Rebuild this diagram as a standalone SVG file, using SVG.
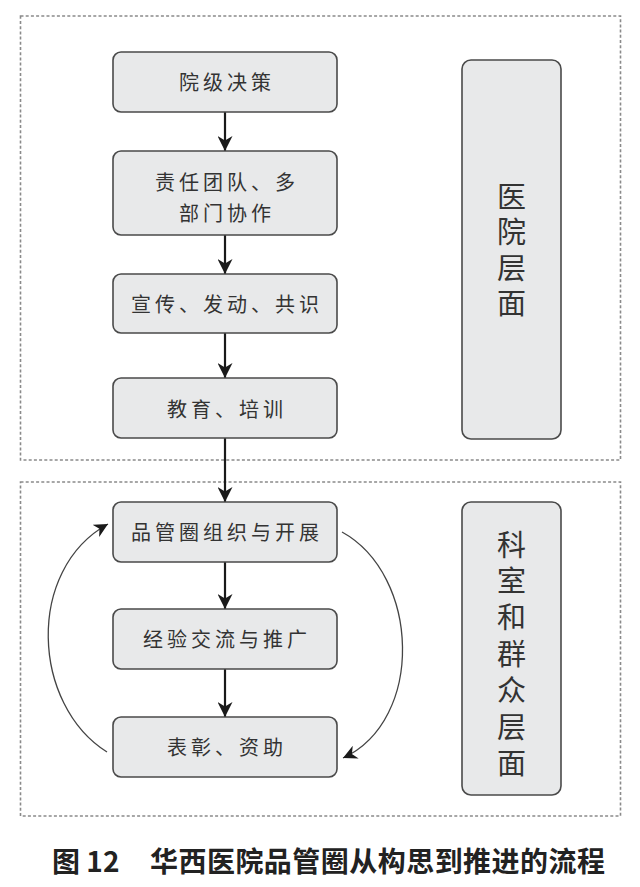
<svg xmlns="http://www.w3.org/2000/svg" width="640" height="887" viewBox="0 0 640 887">
<style>
.frame{fill:none;stroke:#8a8a8a;stroke-width:1.6;stroke-dasharray:3 2.2}
.box{fill:#e8e9ea;stroke:#4a4a4a;stroke-width:1.6}
.t{font-family:"Noto Sans CJK SC","Noto Sans CJK JP",sans-serif;font-size:20px;fill:#333;letter-spacing:4px;text-anchor:middle}
.v{font-family:"Noto Sans CJK SC","Noto Sans CJK JP",sans-serif;font-size:29px;fill:#333;writing-mode:vertical-rl;text-orientation:upright}
.flow{fill:none;stroke:#1a1a1a;stroke-width:2.2}
.curve{fill:none;stroke:#444;stroke-width:1.3}
.title{font-family:"Noto Sans CJK SC","Noto Sans CJK JP",sans-serif;font-size:28px;font-weight:bold;fill:#222}
</style>
<defs>
<marker id="ah2" viewBox="0 0 10 10" refX="10" refY="5" markerWidth="14" markerHeight="14" markerUnits="userSpaceOnUse" orient="auto">
<path d="M0,0 L10,5 L0,10 L3,5 z" fill="#1a1a1a"/>
</marker>
<marker id="ah3" viewBox="0 0 10 10" refX="10" refY="5" markerWidth="15" markerHeight="15" markerUnits="userSpaceOnUse" orient="auto">
<path d="M0,0 L10,5 L0,10 L3,5 z" fill="#1a1a1a"/>
</marker>
</defs>

<g id="frames">
<rect class="frame" x="20.5" y="16" width="600" height="444"/>
<rect class="frame" x="20.5" y="482" width="600" height="334"/>
</g>

<g id="connectors">
<path class="flow" d="M225,112 V151" marker-end="url(#ah3)"/>
<path class="flow" d="M225,235 V274" marker-end="url(#ah3)"/>
<path class="flow" d="M225,333 V378" marker-end="url(#ah3)"/>
<path class="flow" d="M225,438 V502" marker-end="url(#ah3)"/>
<path class="flow" d="M225,562 V609" marker-end="url(#ah3)"/>
<path class="flow" d="M225,669 V717" marker-end="url(#ah3)"/>
<path class="curve" d="M107,752 C32,705 25,570 108,524" marker-end="url(#ah2)"/>
<path class="curve" d="M342,532 C420,575 425,720 343,758" marker-end="url(#ah2)"/>
</g>

<g id="n1"><rect class="box" x="113" y="52" width="224" height="60" rx="8"/><text class="t" x="227" y="90">院级决策</text></g>
<g id="n2"><rect class="box" x="113" y="151" width="224" height="84" rx="8"/><text class="t" x="227" y="190">责任团队、多</text><text class="t" x="227" y="221">部门协作</text></g>
<g id="n3"><rect class="box" x="113" y="274" width="224" height="59" rx="8"/><text class="t" x="227" y="312">宣传、发动、共识</text></g>
<g id="n4"><rect class="box" x="113" y="378" width="224" height="60" rx="8"/><text class="t" x="227" y="417">教育、培训</text></g>
<g id="n5"><rect class="box" x="113" y="502" width="224" height="60" rx="8"/><text class="t" x="227" y="540">品管圈组织与开展</text></g>
<g id="n6"><rect class="box" x="113" y="609" width="224" height="60" rx="8"/><text class="t" x="227" y="647">经验交流与推广</text></g>
<g id="n7"><rect class="box" x="113" y="717" width="224" height="60" rx="8"/><text class="t" x="227" y="755">表彰、资助</text></g>

<g id="r1"><rect class="box" x="462" y="60" width="99" height="379" rx="9"/>
<text class="v" x="511.5" y="182" letter-spacing="6.5">医院层面</text></g>
<g id="r2"><rect class="box" x="462" y="502" width="99" height="293" rx="9"/>
<text class="v" x="511.5" y="530" letter-spacing="7.4">科室和群众层面</text></g>

<g id="caption">
<text class="title" x="52" y="872">图 12</text>
<text class="title" x="150" y="872" textLength="455">华西医院品管圈从构思到推进的流程</text>
</g>
</svg>
